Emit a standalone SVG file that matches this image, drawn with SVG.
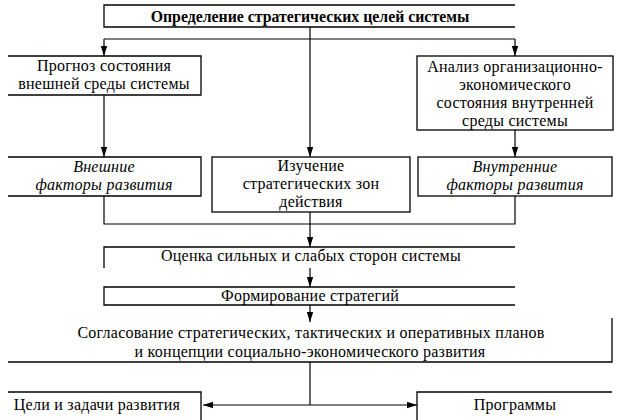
<svg xmlns="http://www.w3.org/2000/svg" width="620" height="420" viewBox="0 0 620 420">
<defs>
<marker id="ah" viewBox="0 0 10 10" refX="10" refY="5" markerWidth="10" markerHeight="10" markerUnits="userSpaceOnUse" orient="auto">
<path d="M0,1.8 L10,5 L0,8.2 Z" fill="#000"/>
</marker>
<marker id="ahs" viewBox="0 0 10 10" refX="0" refY="5" markerWidth="10" markerHeight="10" markerUnits="userSpaceOnUse" orient="auto">
<path d="M10,1.8 L0,5 L10,8.2 Z" fill="#000"/>
</marker>
</defs>
<style>
.b{fill:none;stroke:#000;stroke-width:1.3}
.c{fill:none;stroke:#000;stroke-width:1.2}
.a{marker-end:url(#ah)}
.t{font-family:'Liberation Serif','DejaVu Serif',serif;font-size:16px;letter-spacing:0.25px;fill:#000;text-anchor:middle}
.bd{font-weight:bold;font-size:15.8px;letter-spacing:0}
.it{font-style:italic}
</style>
<rect width="620" height="420" fill="#fff"/>
<g id="connectors">
<path class="c a" d="M310,27 V157"/>
<path class="c" d="M104,39 H515"/>
<path class="c a" d="M104,39 V56"/>
<path class="c a" d="M515,39 V56"/>
<path class="c a" d="M104,95 V157"/>
<path class="c a" d="M515,130 V157"/>
<path class="c" d="M104,196 V224 H515 V196"/>
<path class="c a" d="M310,212 V247"/>
<path class="c a" d="M310,268 V287"/>
<path class="c a" d="M310,305 V322"/>
<path class="c" d="M310,362 V405"/>
<path class="c" d="M203,405 H417" marker-start="url(#ahs)" marker-end="url(#ah)"/>
</g>
<g class="t" font-family="Liberation Serif, DejaVu Serif, serif">
<g id="n-goals">
<path class="b" d="M515,5 H104 V27 H515"/>
<text class="bd" x="310" y="22">Определение стратегических целей системы</text>
</g>
<g id="n-forecast">
<path class="b" d="M8,56 H201 V95 H8"/>
<text x="104" y="71">Прогноз состояния</text>
<text x="104" y="89">внешней среды системы</text>
</g>
<g id="n-analysis">
<rect class="b" x="417" y="56" width="196" height="74"/>
<text x="515" y="72">Анализ организационно-</text>
<text x="515" y="90">экономического</text>
<text x="515" y="108">состояния внутренней</text>
<text x="515" y="126">среды системы</text>
</g>
<g id="n-external">
<path class="b" d="M8,157 H201 V196 H8"/>
<text class="it" x="104" y="172">Внешние</text>
<text class="it" x="104" y="190">факторы развития</text>
</g>
<g id="n-zones">
<rect class="b" x="212" y="157" width="198" height="55"/>
<text x="311" y="171">Изучение</text>
<text x="311" y="189">стратегических зон</text>
<text x="311" y="207">действия</text>
</g>
<g id="n-internal">
<rect class="b" x="418" y="157" width="194" height="39"/>
<text class="it" x="515" y="172">Внутренние</text>
<text class="it" x="515" y="190">факторы развития</text>
</g>
<g id="n-swot">
<path class="b" d="M515,247 H104 V268"/>
<text x="311" y="261">Оценка сильных и слабых сторон системы</text>
</g>
<g id="n-strategy">
<path class="b" d="M515,287 H104 V305 H515"/>
<text x="310" y="301">Формирование стратегий</text>
</g>
<g id="n-coordination">
<path class="b" d="M8,362 H612 V318"/>
<text x="311" y="338">Согласование стратегических, тактических и оперативных планов</text>
<text x="310" y="357">и концепции социально-экономического развития</text>
</g>
<g id="n-aims">
<path class="b" d="M8,392 H201 V420"/>
<text x="97" y="410">Цели и задачи развития</text>
</g>
<g id="n-programs">
<path class="b" d="M612,392 H417 V420"/>
<text x="515" y="410">Программы</text>
</g>
</g>
</svg>
